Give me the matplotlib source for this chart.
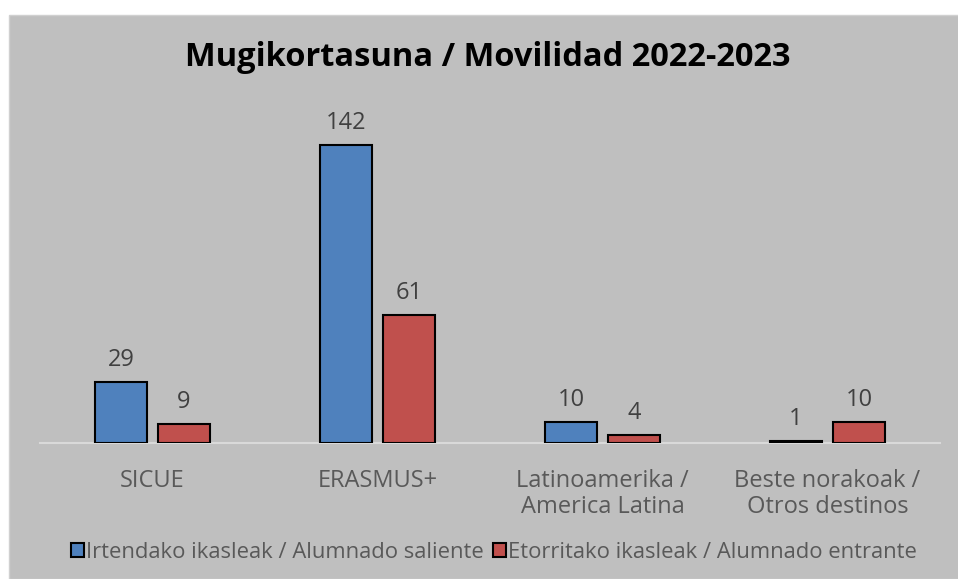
import numpy as np
import matplotlib
matplotlib.use('Agg')
import matplotlib.pyplot as plt
from matplotlib.patches import Rectangle

plt.rcParams['font.family'] = ['Open Sans', 'DejaVu Sans']

categories = ['SICUE', 'ERASMUS+', 'Latinoamerika /\nAmerica Latina', 'Beste norakoak /\nOtros destinos']
series_names = ['Irtendako ikasleak / Alumnado saliente', 'Etorritako ikasleak / Alumnado entrante']
outgoing = [29, 142, 10, 1]
incoming = [9, 61, 4, 10]

bg = '#bfbfbf'
colors = ['#4f81bd', '#c0504d']

fig = plt.figure(figsize=(9.58, 5.79), dpi=100)
fig.patch.set_facecolor('white')
# gray chart area, white margin at top and left
fig.patches.append(Rectangle((9 / 958, 0), 1, 1 - 15 / 579, transform=fig.transFigure,
                             facecolor=bg, edgecolor='#d0d0d0', linewidth=1, zorder=-1))

ax = fig.add_axes([40 / 958, 1 - 443 / 579, 900 / 958, 336 / 579])
ax.set_facecolor('none')

x = np.arange(len(categories))
w = 0.227
off = 0.14
b1 = ax.bar(x - off, outgoing, w, color=colors[0], edgecolor='black', linewidth=1.5,
            label=series_names[0], zorder=3)
b2 = ax.bar(x + off, incoming, w, color=colors[1], edgecolor='black', linewidth=1.5,
            label=series_names[1], zorder=3)
for bars in (b1, b2):
    ax.bar_label(bars, padding=7, fontsize=17, color='#404040')

ax.set_xlim(-0.5, len(categories) - 0.5)
ax.set_ylim(0, 160)
ax.set_yticks([])
for s in ['top', 'right', 'left']:
    ax.spines[s].set_visible(False)
ax.spines['bottom'].set_color('#d9d9d9')
ax.spines['bottom'].set_linewidth(1.5)
ax.set_xticks(x)
ax.set_xticklabels(categories, fontsize=17, color='#595959', linespacing=1.08, va='top')
ax.tick_params(axis='x', length=0, pad=19)

fig.text(488 / 958, 1 - 58 / 579, 'Mugikortasuna / Movilidad 2022-2023', ha='center', va='center',
         fontsize=23.5, fontweight='bold', color='black')

fig.legend(loc='center', bbox_to_anchor=(494 / 958, 1 - 552 / 579), ncol=2, frameon=False,
           fontsize=15.8, handlelength=0.6, handleheight=0.6, handletextpad=0.1,
           columnspacing=0.4, labelcolor='#595959')

fig.savefig('out.png', dpi=100, facecolor=fig.get_facecolor())
